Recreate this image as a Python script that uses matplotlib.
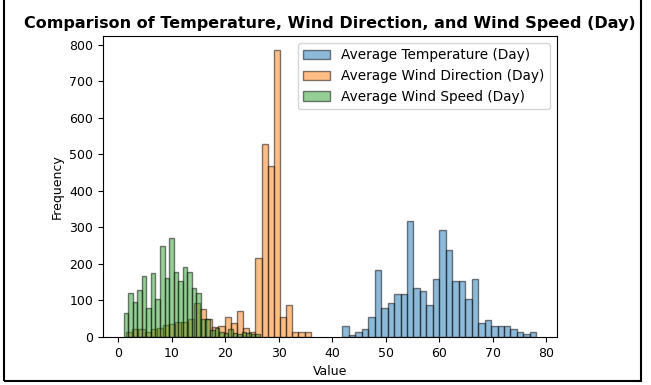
import numpy as np
import matplotlib
matplotlib.use("Agg")
import matplotlib.pyplot as plt
from matplotlib.patches import Rectangle

# bin edges (30 bins each) and counts
temp_range = (41.9, 78.2)
temp_counts = [30, 6, 14, 23, 55, 183, 80, 94, 118, 118,
               319, 134, 127, 87, 159, 294, 239, 152, 152, 103,
               159, 39, 47, 30, 30, 30, 23, 15, 7, 15]

dir_range = (1.46, 36.0)
dir_counts = [15, 22, 22, 14, 22, 25, 32, 35, 42, 42,
              49, 92, 78, 49, 28, 30, 56, 39, 71, 24,
              15, 216, 529, 467, 785, 56, 88, 15, 15, 15]

speed_range = (1.0, 26.5)
speed_counts = [65, 121, 96, 129, 167, 80, 176, 104, 249, 161,
                272, 177, 152, 193, 177, 135, 120, 50, 48, 20,
                25, 15, 12, 21, 12, 8, 15, 10, 7, 7]

labels = ["Average Temperature (Day)", "Average Wind Direction (Day)",
          "Average Wind Speed (Day)"]
colors = ["#1f77b4", "#ff7f0e", "#2ca02c"]

fig = plt.figure(figsize=(6.51, 3.85), dpi=100)
ax = fig.add_axes([0.1582, 0.1247, 0.6974, 0.7818])

for rng, counts, lab, col in zip([temp_range, dir_range, speed_range],
                                 [temp_counts, dir_counts, speed_counts],
                                 labels, colors):
    edges = np.linspace(rng[0], rng[1], len(counts) + 1)
    centers = (edges[:-1] + edges[1:]) / 2
    ax.hist(centers, bins=edges, weights=counts, alpha=0.5, color=col,
            edgecolor="black", label=lab)

ax.set_xticks(np.arange(0, 81, 10))
ax.set_yticks(np.arange(0, 801, 100))
ax.tick_params(labelsize=9)
ax.set_xlabel("Value", fontsize=9)
ax.set_ylabel("Frequency", fontsize=9)
ax.set_title("Comparison of Temperature, Wind Direction, and Wind Speed (Day)",
             fontsize=11.5, fontweight="bold")
ax.legend(loc="upper right", fontsize=9.8)

# frame of the notebook output cell
fig.patches.append(Rectangle((4, 4), 637, 400, transform=None, fill=False,
                             edgecolor="black", linewidth=1.5))

fig.savefig("out.png", dpi=100)
